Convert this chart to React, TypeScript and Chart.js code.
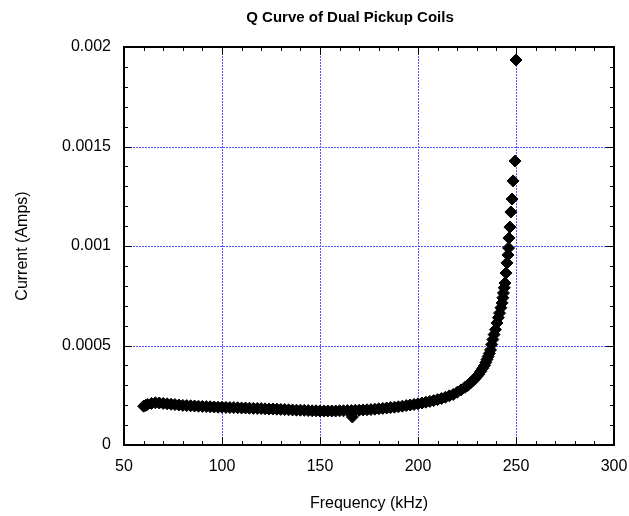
import React, { useEffect, useRef } from "react";
import { Chart, registerables } from "chart.js";

Chart.register(...registerables);

const TITLE = "Q Curve of Dual Pickup Coils";
const X_TITLE = "Frequency (kHz)";
const Y_TITLE = "Current (Amps)";

const X_TICK_LABELS = ["50", "100", "150", "200", "250", "300"];
const Y_TICK_LABELS = ["0", "0.0005", "0.001", "0.0015", "0.002"];

const frequency = [
  60, 61, 62, 64, 66, 68, 70, 72, 74, 76, 78, 80, 82, 84, 86, 88, 90, 92, 94, 96, 98,
  100, 102, 104, 106, 108, 110, 112, 114, 116, 118, 120, 122, 124, 126, 128, 130, 132,
  134, 136, 138, 140, 142, 144, 146, 148, 150, 152, 154, 156, 158, 160, 162, 164, 166,
  166.5, 168, 170, 172, 174, 176, 178, 180, 182, 184, 186, 188, 190, 192, 194, 196, 198,
  200, 202, 204, 206, 208, 210, 212, 214, 216, 218, 220, 222, 224, 225, 226, 227, 228,
  229, 230, 231, 232, 233, 234, 234.6, 235.2, 235.8, 236.4, 237, 237.6, 238.2, 238.8,
  239.5, 240.3, 241, 241.6, 242.3, 242.9, 243.3, 243.6, 244, 244.4, 244.9, 245.4, 245.9,
  246.2, 246.4, 246.9, 247.4, 248, 248.5, 249.5, 250,
];

const current = [
  0.000195, 0.000199, 0.000204, 0.000209, 0.000212, 0.000211, 0.000209, 0.000207,
  0.000205, 0.000203, 0.000201, 0.000199, 0.000198, 0.000197, 0.000196, 0.000195,
  0.000194, 0.000193, 0.000192, 0.000191, 0.00019, 0.00019, 0.000189, 0.000188,
  0.000188, 0.000187, 0.000186, 0.000186, 0.000185, 0.000184, 0.000184, 0.000183,
  0.000182, 0.000181, 0.000181, 0.00018, 0.000179, 0.000178, 0.000177, 0.000176,
  0.000175, 0.000175, 0.000174, 0.000173, 0.000172, 0.000172, 0.000171, 0.000171,
  0.000171, 0.000171, 0.000171, 0.000172, 0.000172, 0.000173, 0.000173, 0.000141,
  0.000174, 0.000175, 0.000176, 0.000177, 0.000178, 0.00018, 0.000182, 0.000184,
  0.000186, 0.000188, 0.00019, 0.000192, 0.000195, 0.000198, 0.000201, 0.000204,
  0.000207, 0.000211, 0.000215, 0.000219, 0.000223, 0.000228, 0.000234, 0.00024,
  0.000247, 0.000254, 0.000265, 0.000277, 0.00029, 0.000297, 0.000305, 0.000314,
  0.000323, 0.000333, 0.000344, 0.000355, 0.00037, 0.000385, 0.0004, 0.000415,
  0.00043, 0.000445, 0.00046, 0.000478, 0.000505, 0.00053, 0.000555, 0.00058,
  0.000613, 0.00064, 0.000663, 0.00069, 0.000714, 0.00074, 0.000764, 0.00079,
  0.000814, 0.000864, 0.000915, 0.000955, 0.00099, 0.00104, 0.001095, 0.001171,
  0.001236, 0.001327, 0.001427, 0.001935,
];

const X_MIN = 50, X_MAX = 300, X_STEP = 50, X_MINOR = 10;
const Y_MIN = 0, Y_MAX = 0.002, Y_STEP = 0.0005, Y_MINOR = 0.0001;

const FONT = "'Liberation Sans', Arial, sans-serif";
const GRID_COLOR = "#5555ff";

const framePlugin = {
  id: "frameTicks",
  beforeDatasetsDraw(chart: any) {
    const { ctx, chartArea } = chart;
    const { left, right, top, bottom } = chartArea;
    const xs = chart.scales.x;
    const ys = chart.scales.y;
    ctx.save();
    const line = (x1: number, y1: number, x2: number, y2: number) => {
      ctx.beginPath();
      ctx.moveTo(x1, y1);
      ctx.lineTo(x2, y2);
      ctx.stroke();
    };
    // dotted grid at major values (inside only)
    ctx.strokeStyle = GRID_COLOR;
    ctx.lineWidth = 1;
    ctx.setLineDash([2, 1]);
    const nMajX = Math.round((X_MAX - X_MIN) / X_STEP);
    for (let i = 1; i < nMajX; i++) {
      const px = Math.round(xs.getPixelForValue(X_MIN + i * X_STEP)) + 0.5;
      line(px, top, px, bottom);
    }
    const nMajY = Math.round((Y_MAX - Y_MIN) / Y_STEP);
    for (let i = 1; i < nMajY; i++) {
      const py = Math.round(ys.getPixelForValue(Y_MIN + i * Y_STEP)) + 0.5;
      line(left, py, right, py);
    }
    ctx.setLineDash([]);
    ctx.strokeStyle = "#000";
    const nx = Math.round((X_MAX - X_MIN) / X_MINOR);
    const per = Math.round(X_STEP / X_MINOR);
    for (let i = 0; i <= nx; i++) {
      const v = X_MIN + i * X_MINOR;
      const px = Math.round(xs.getPixelForValue(v)) + 0.5;
      const len = i % per === 0 ? 8 : 4;
      line(px, bottom, px, bottom - len);
      line(px, top, px, top + len);
    }
    const ny = Math.round((Y_MAX - Y_MIN) / Y_MINOR);
    const pery = Math.round(Y_STEP / Y_MINOR);
    for (let i = 0; i <= ny; i++) {
      const v = Y_MIN + i * Y_MINOR;
      const py = Math.round(ys.getPixelForValue(v)) + 0.5;
      const len = i % pery === 0 ? 8 : 4;
      line(left, py, left + len, py);
      line(right, py, right - len, py);
    }
    ctx.lineWidth = 2;
    ctx.strokeRect(left, top, right - left, bottom - top);
    ctx.restore();
  },
};

const titlePlugin = {
  id: "customTitle",
  afterDraw(chart: any) {
    const { ctx } = chart;
    ctx.save();
    ctx.fillStyle = "#000";
    ctx.font = `bold 15px ${FONT}`;
    ctx.textAlign = "center";
    ctx.textBaseline = "middle";
    ctx.fillText(TITLE, 350, 18);
    ctx.restore();
  },
};

export default function App() {
  const ref = useRef<HTMLCanvasElement | null>(null);

  useEffect(() => {
    if (!ref.current) return;
    const points = frequency.map((f, i) => ({ x: f, y: current[i] }));
    const chart = new Chart(ref.current, {
      type: "scatter",
      data: {
        datasets: [
          {
            data: points,
            pointStyle: "rectRot",
            pointRadius: 6,
            pointBorderWidth: 1,
            backgroundColor: "#000",
            borderColor: "#000",
            showLine: false,
          },
        ],
      },
      plugins: [framePlugin, titlePlugin],
      options: {
        responsive: false,
        animation: false,
        devicePixelRatio: 1,
        layout: { padding: { left: 0, right: 15, top: 47, bottom: 0 } },
        plugins: {
          legend: { display: false },
          title: { display: false },
          tooltip: { enabled: false },
        },
        scales: {
          x: {
            type: "linear",
            min: X_MIN,
            max: X_MAX,
            afterFit: (s: any) => {
              s.height = 71;
              s.paddingLeft = 0;
              s.paddingRight = 0;
            },
            border: { display: false },
            grid: { display: false, drawTicks: false },
            ticks: {
              stepSize: X_STEP,
              padding: 12,
              color: "#000",
              font: { family: FONT, size: 16 },
              maxRotation: 0,
              callback: (_v: any, i: number) => X_TICK_LABELS[i],
            },
            title: {
              display: true,
              text: X_TITLE,
              color: "#000",
              font: { family: FONT, size: 16 },
              padding: { top: 0, bottom: 3 },
            },
          },
          y: {
            type: "linear",
            min: Y_MIN,
            max: Y_MAX,
            afterFit: (s: any) => {
              s.width = 124;
              s.paddingTop = 0;
              s.paddingBottom = 0;
            },
            border: { display: false },
            grid: { display: false, drawTicks: false },
            ticks: {
              stepSize: Y_STEP,
              padding: 13,
              color: "#000",
              font: { family: FONT, size: 16 },
              callback: (_v: any, i: number) => Y_TICK_LABELS[i],
            },
            title: {
              display: true,
              text: Y_TITLE,
              color: "#000",
              font: { family: FONT, size: 16 },
              padding: { top: 13, bottom: 0 },
            },
          },
        },
      },
    } as any);
    return () => chart.destroy();
  }, []);

  return (
    <div style={{ position: "absolute", left: 0, top: 0, width: 629, height: 516, background: "#fff" }}>
      <canvas ref={ref} width={629} height={516} style={{ display: "block" }} />
    </div>
  );
}
